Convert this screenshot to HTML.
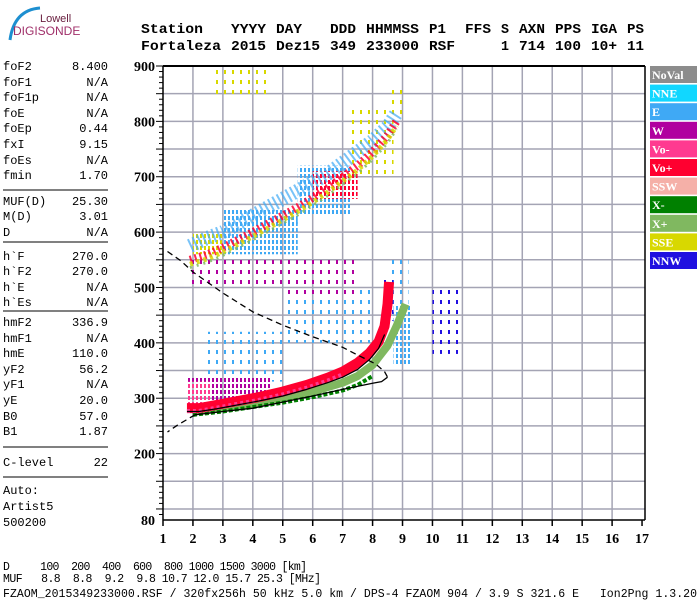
<!DOCTYPE html>
<html><head><meta charset="utf-8"><style>
body{margin:0;background:#fff;}
svg{display:block;}
.m{font-family:"Liberation Mono",monospace;}
.b{font-family:"Liberation Serif",serif;font-weight:bold;}
</style></head><body>
<svg id="chart" width="700" height="600" viewBox="0 0 700 600" xmlns="http://www.w3.org/2000/svg">
<defs id="defs"></defs>
<g>
<path d="M40 8 Q14 10 10 40" stroke="#1d8fd0" stroke-width="3" fill="none"/>
<text x="40" y="22" font-family="Liberation Sans, sans-serif" font-size="11" fill="#6a2040">Lowell</text>
<text x="13" y="35" font-family="Liberation Sans, sans-serif" font-size="12" fill="#a0306a">DIGISONDE</text>
</g>
<g id="header" class="m" font-weight="bold" font-size="14"></g>
<g id="panel" class="m" font-size="12"></g>
<g id="grid"></g>
<g id="clusters"></g>
<g id="traces"></g>
<g id="axes"></g>
<g id="legend"></g>
<g class="m" font-size="11.5">
<text x="3" y="570" xml:space="preserve" textLength="304">D     100  200  400  600  800 1000 1500 3000 [km]</text>
<text x="3" y="582" xml:space="preserve" textLength="318">MUF   8.8  8.8  9.2  9.8 10.7 12.0 15.7 25.3 [MHz]</text>
<text x="3" y="597" xml:space="preserve" textLength="694">FZAOM_2015349233000.RSF / 320fx256h 50 kHz 5.0 km / DPS-4 FZAOM 904 / 3.9 S 321.6 E   Ion2Png 1.3.20</text>
</g>
</svg>
<script>
const NS="http://www.w3.org/2000/svg";
function mk(p,t,a){const e=document.createElementNS(NS,t);for(const k in a)e.setAttribute(k,a[k]);p.appendChild(e);return e;}
const X=f=>163+(f-1)*29.94, Y=h=>66+(900-h)*0.5537;

// header (column positions in fixed-pitch characters)
const hdr1=[["Station",0],["YYYY",10],["DAY",15],["DDD",21],["HHMMSS",25],["P1",32],["FFS",36],["S",40],["AXN",42],["PPS",46],["IGA",50],["PS",54]];
const hdr2=[["Fortaleza",0],["2015",10],["Dez15",15],["349",21],["233000",25],["RSF",32],["1",40],["714",42],["100",46],["10+",50],["11",54]];
const H=document.getElementById('header');
hdr1.forEach(([t,c])=>{const e=mk(H,'text',{x:141+c*9,y:33,textLength:t.length*9-1,lengthAdjust:'spacingAndGlyphs'});e.textContent=t;});
hdr2.forEach(([t,c])=>{const e=mk(H,'text',{x:141+c*9,y:50,textLength:t.length*9-1,lengthAdjust:'spacingAndGlyphs'});e.textContent=t;});

// panel
const panelLabels=["foF2","foF1","foF1p","foE","foEp","fxI","foEs","fmin","MUF(D)","M(D)","D","h`F","h`F2","h`E","h`Es","hmF2","hmF1","hmE","yF2","yF1","yE","B0","B1","C-level","Auto:","Artist5","500200"];
const panelValues=["8.400","N/A","N/A","N/A","0.44","9.15","N/A","1.70","25.30","3.01","N/A","270.0","270.0","N/A","N/A","336.9","N/A","110.0","56.2","N/A","20.0","57.0","1.87","22","","",""];
const panelY=[70,86,101,117,132,148,164,179,205,220,236,260,275,291,306,326,342,357,373,388,404,420,435,466,494,510,526];
const sepY=[190,242,311,447,477];
const P=document.getElementById('panel');
panelLabels.forEach((l,i)=>{const a=mk(P,'text',{x:3,y:panelY[i]});a.textContent=l;
 if(panelValues[i]){const v=mk(P,'text',{x:108,y:panelY[i],'text-anchor':'end'});v.textContent=panelValues[i];}});
sepY.forEach(y=>{const l=mk(P,'line',{x1:3,x2:108,y1:y,y2:y,stroke:'#000','stroke-width':1});});

// grid
const G=document.getElementById('grid');
const freqTicks=[1,2,3,4,5,6,7,8,9,10,11,12,13,14,15,16,17];
const hGrid=[100,150,200,250,300,350,400,450,500,550,600,650,700,750,800,850];
freqTicks.slice(1,-1).forEach(f=>{const l=mk(G,'line',{x1:X(f),x2:X(f),y1:66,y2:520,stroke:'#a4a4b4','stroke-width':1.5});});
hGrid.forEach(h=>{const l=mk(G,'line',{x1:163,x2:645,y1:Y(h),y2:Y(h),stroke:'#a4a4b4','stroke-width':1.5});});

// echo clusters: fmin,fmax,hmin,hmax,color,density(1=dense)
const clF0=[8.7,8.5,10.0,2.4,5.0,1.8,1.8,5.0,8.2,2.7,8.5,1.8,3.0,5.5,7.2,2.0,4.0,6.0];
const clF1=[9.3,9.2,11.0,5.0,8.0,4.6,5.5,7.5,8.7,4.5,9.0,2.6,5.5,7.3,8.7,3.0,5.5,7.5];
const clH0=[360,470,380,330,400,290,500,480,440,840,810,285,560,630,700,560,600,660];
const clH1=[470,560,500,420,500,340,550,550,520,900,860,330,640,720,830,600,650,710];
const clC=["#3fa9f5","#3fa9f5","#2010e0","#3fa9f5","#3fa9f5","#b0009f","#b0009f","#b0009f","#2010e0","#d8d800","#d8d800","#ff3a90","#3fa9f5","#3fa9f5","#d8d800","#d8d800","#3fa9f5","#ff0030"];
const clD=[1,0,0,0,0,1,0,0,0,0,0,1,1,1,0,1,0,1];
const D=document.getElementById('defs');
const C=document.getElementById('clusters');
clF0.forEach((f,i)=>{
 const pw=clD[i]?4:8, ph=clD[i]?6:10;
 const p=mk(D,'pattern',{id:'pc'+i,width:pw,height:ph,patternUnits:'userSpaceOnUse'});
 mk(p,'rect',{width:2,height:4,fill:clC[i]});
 const r=mk(C,'rect',{x:X(f),y:Y(clH1[i]),width:X(clF1[i])-X(f),height:Y(clH0[i])-Y(clH1[i]),fill:'url(#pc'+i+')'});});

// traces
const T=document.getElementById('traces');
function poly(fs,hs,stroke,w,dash,name,op){const pts=fs.map((f,i)=>X(f)+','+Y(hs[i])).join(' ');const a={points:pts,fill:'none',stroke:stroke,'stroke-width':w,'stroke-linejoin':'round'};if(dash)a['stroke-dasharray']=dash;if(op)a.opacity=op;const e=mk(T,'polyline',a);return e;}
// second hop
const hop2F=[1.9,2.5,3,3.5,4,4.5,5,5.5,6,6.5,7,7.5,8,8.5,8.8];
const hop2H=[550,560,572,586,600,615,630,645,662,680,700,720,745,775,800];
const hop2BlueH=[575,590,600,615,630,645,660,675,690,705,725,745,765,790,815];
poly(hop2F,hop2BlueH,'#3fa9f5',14,'2 3','second-hop-e',0.7);
poly(hop2F,hop2H,'#ff0030',8,'2 3','second-hop-vo',0.85);
poly(hop2F,hop2H.map(h=>h-8),'#d8d800',5,'3 4','second-hop-sse',0.85);
poly(hop2F,hop2H.map(h=>h-14),'#80b860',3,'2 5','second-hop-x',0.85);
// X traces
const xpF=[2,3,4,5,6,7,7.5,8,8.5,8.8,9.1];
const xpH=[276,282,290,300,312,328,340,360,395,430,470];
const xmF=[2,3,4,5,6,7,7.5,8];
const xmH=[270,276,284,292,302,314,324,340];
poly(xpF,xpH,'#80b860',8,null,'x-plus-trace');
poly(xmF,xmH,'#008000',4,'4 2','x-minus-trace');
// O trace
const oF=[1.8,2.2,2.8,3.5,4.2,5,5.8,6.5,7,7.5,7.9,8.2,8.4,8.5,8.55];
const oH=[282,282,288,295,302,312,324,337,348,364,382,402,430,470,510];
poly(oF,oH,'#ff0030',10,null,'vo-plus-trace');
poly(oF.slice(0,9),oH.slice(0,9).map(h=>h-5),'#ff3a90',4,'3 3','vo-minus-trace');
const scF=[1.8,2.2,2.8,3.5,4.2,5,5.8,6.5,7,7.5,7.9,8.2,8.4];
const scH=[276,276,281,288,295,304,316,328,338,352,370,390,415];
poly(scF,scH,'#000',1.2,null,'scaled-trace');
// model profile
const mdF=[1.15,1.6,2,3,4,5,6,7,7.5,8.1,8.4,8.5,8.3,8,7,6,5,4,3,2.07,1.5,1.15];
const mdH=[565,548,528,490,456,432,411,392,378,362,348,338,330,327,316,304,293,282,276,270,252,239];
poly(mdF.slice(0,12),mdH.slice(0,12),'#000',1.3,'6 4','model-profile-dashed');
poly(mdF.slice(11,20),mdH.slice(11,20),'#000',1.3,null,'model-profile-solid');
poly(mdF.slice(19),mdH.slice(19),'#000',1.3,'6 4','model-profile-tail');

// axes
const A=document.getElementById('axes');
function ln(x1,y1,x2,y2,w,name){const l=mk(A,'line',{x1,y1,x2,y2,stroke:'#000','stroke-width':w});}
ln(163,66,645,66,2,'plot-top-border');ln(645,66,645,520,1.5,'plot-right-border');
ln(163,66,163,520,1.5,'y-axis');ln(163,520,645,520,1.5,'x-axis');
for(let h=90;h<=900;h+=10){ln(163,Y(h),h%50==0?156:159,Y(h),1,'y-tick');}
freqTicks.forEach(f=>{ln(X(f),520,X(f),526,1.5,'x-tick');const t=mk(A,'text',{x:X(f),y:543,'text-anchor':'middle',class:'b','font-size':14});t.textContent=f;});
const yLabels=[80,200,300,400,500,600,700,800,900];
yLabels.forEach(h=>{const t=mk(A,'text',{x:155,y:Y(h)+5,'text-anchor':'end',class:'b','font-size':14});t.textContent=h;});

// legend
const legNames=["NoVal","NNE","E","W","Vo-","Vo+","SSW","X-","X+","SSE","NNW"];
const legColors=["#8c8c8c","#11d7ff","#3fa9f5","#b0009f","#ff3a90","#ff0030","#f5b0a8","#008000","#80b860","#d8d800","#2010e0"];
const L=document.getElementById('legend');
legNames.forEach((n,i)=>{const y=66+i*18.6;const r=mk(L,'rect',{x:650,y:y,width:47,height:17,fill:legColors[i]});
 const t=mk(L,'text',{x:652,y:y+13,fill:'#fff',class:'b','font-size':12});t.textContent=n;});
</script>
</body></html>
